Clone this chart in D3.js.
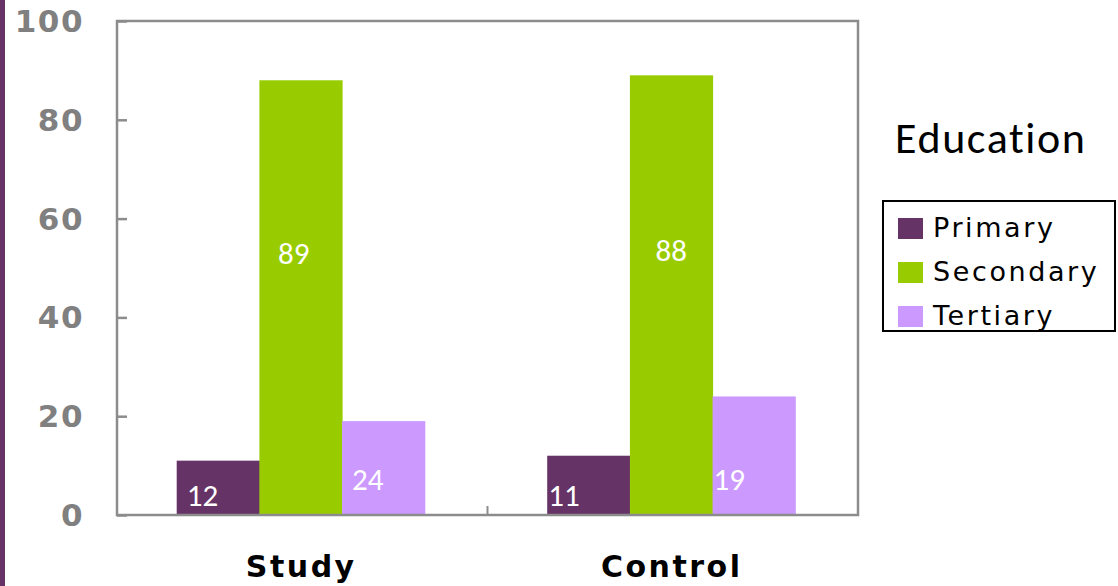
<!DOCTYPE html>
<html>
<head>
<meta charset="utf-8">
<script src="https://cdn.jsdelivr.net/npm/d3@7"></script>
<style>
body { margin: 0; background: #fff; }
svg { display: block; }
</style>
</head>
<body>
<svg id="chart" width="1118" height="586"></svg>
<script>
var groups = ['Study', 'Control'];
var series = ['Primary', 'Secondary', 'Tertiary'];
var colors = ['#663366', '#99cc00', '#cc99ff'];
// bar heights as drawn
var studyValues = [11, 88, 19];
var controlValues = [12, 89, 24];
// labels as printed on the bars
var studyLabels = ['12', '89', '24'];
var controlLabels = ['11', '88', '19'];
var yTicks = [0, 20, 40, 60, 80, 100];

var svg = d3.select('#chart');
var margin = {left: 117, top: 21, right: 858, bottom: 515};

// purple strip on the left edge
svg.append('rect')
	.attr('x', 0).attr('y', 0)
	.attr('width', 5).attr('height', 586)
	.style('fill', '#663366');

var x0 = d3.scaleBand()
	.domain(groups)
	.range([margin.left, margin.right])
	.paddingInner(0)
	.paddingOuter(0);

var x1 = d3.scaleBand()
	.domain(series)
	.range([0, x0.bandwidth()])
	.paddingInner(0)
	.paddingOuter(0.74);

var y = d3.scaleLinear()
	.domain([0, 100])
	.range([margin.bottom, margin.top]);

var color = d3.scaleOrdinal().domain(series).range(colors);

var rows = [
	{group: 'Study', values: studyValues, labels: studyLabels},
	{group: 'Control', values: controlValues, labels: controlLabels}
];

var g = svg.selectAll('g.group')
	.data(rows)
	.enter().append('g')
	.attr('class', 'group')
	.attr('transform', function(d) { return 'translate(' + (x0(d.group) - 1.5) + ',0)'; });

g.selectAll('rect')
	.data(function(d) { return d.values.map(function(v, i) { return {s: series[i], v: v}; }); })
	.enter().append('rect')
	.attr('x', function(d) { return x1(d.s); })
	.attr('width', x1.bandwidth() + 0.5)
	.attr('y', function(d) { return y(d.v); })
	.attr('height', function(d) { return y(0) - y(d.v); })
	.style('fill', function(d) { return color(d.s); });

g.selectAll('text.lbl')
	.data(function(d) {
		return d.labels.map(function(l, i) { return {s: series[i], l: l, v: d.values[i], g: d.group}; });
	})
	.enter().append('text')
	.attr('class', 'lbl')
	.attr('x', function(d) {
		var study = d.g === 'Study';
		if (d.s === 'Secondary') return x1(d.s) + x1.bandwidth() / 2 + (study ? -7 : 0);
		return x1(d.s) + (study ? 10 : 1);
	})
	.attr('y', function(d) {
		if (d.s === 'Primary') return y(0) - 9;
		if (d.s === 'Tertiary') return y(0) - 25;
		return y(d.v * 0.6) + 10;
	})
	.attr('text-anchor', function(d) { return d.s === 'Secondary' ? 'middle' : 'start'; })
	.style('font-family', 'Carlito, Lato, "Open Sans", sans-serif')
	.style('font-size', '31px')
	.style('fill', '#fff')
	.text(function(d) { return d.l; });

// frame
var frameColor = '#8c8c8c';
svg.append('rect')
	.attr('x', margin.left)
	.attr('y', margin.top)
	.attr('width', margin.right - margin.left)
	.attr('height', margin.bottom - margin.top)
	.style('fill', 'none')
	.style('stroke', frameColor)
	.style('stroke-width', 2.5);

// y axis, ticks pointing inwards
var yAxis = svg.append('g')
	.attr('transform', 'translate(' + margin.left + ',0)')
	.call(d3.axisRight(y).tickValues(yTicks).tickSize(10).tickFormat(''));
yAxis.select('.domain').remove();
yAxis.selectAll('line').style('stroke', frameColor).style('stroke-width', 2.5);

svg.selectAll('text.ytick')
	.data(yTicks)
	.enter().append('text')
	.attr('class', 'ytick')
	.attr('x', 84)
	.attr('y', function(d) { return y(d) + 11; })
	.attr('text-anchor', 'end')
	.style('font-family', '"DejaVu Sans", sans-serif')
	.style('font-weight', 'bold')
	.style('font-size', '31px')
	.style('letter-spacing', '1.5px')
	.style('fill', '#808080')
	.text(function(d) { return d; });

// category separator tick
svg.append('line')
	.attr('x1', x0('Control')).attr('x2', x0('Control'))
	.attr('y1', margin.bottom).attr('y2', margin.bottom - 9)
	.style('stroke', frameColor)
	.style('stroke-width', 2);

svg.selectAll('text.xlab')
	.data(groups)
	.enter().append('text')
	.attr('class', 'xlab')
	.attr('x', function(d) { return x0(d) + x0.bandwidth() / 2 - 1; })
	.attr('y', 577)
	.attr('text-anchor', 'middle')
	.style('font-family', '"DejaVu Sans", sans-serif')
	.style('font-weight', 'bold')
	.style('font-size', '30px')
	.style('letter-spacing', '2.5px')
	.style('fill', '#000')
	.text(function(d) { return d; });

// legend
svg.append('text')
	.attr('x', 895)
	.attr('y', 153)
	.style('font-family', 'Carlito, Lato, "Open Sans", sans-serif')
	.style('font-size', '44px')
	.style('letter-spacing', '1.6px')
	.style('fill', '#000')
	.text('Education');

svg.append('rect')
	.attr('x', 883).attr('y', 201)
	.attr('width', 232).attr('height', 130)
	.style('fill', '#fff')
	.style('stroke', '#000')
	.style('stroke-width', 2);

var legend = svg.selectAll('g.leg')
	.data(series)
	.enter().append('g')
	.attr('class', 'leg')
	.attr('transform', function(d, i) { return 'translate(898,' + (218 + i * 44) + ')'; });

legend.append('rect')
	.attr('width', 25).attr('height', 21)
	.style('fill', function(d) { return color(d); });

legend.append('text')
	.attr('x', 35)
	.attr('y', 19)
	.style('font-family', '"DejaVu Sans", sans-serif')
	.style('font-size', '27px')
	.style('letter-spacing', '2.6px')
	.style('fill', '#000')
	.text(function(d) { return d; });
</script>
</body>
</html>
